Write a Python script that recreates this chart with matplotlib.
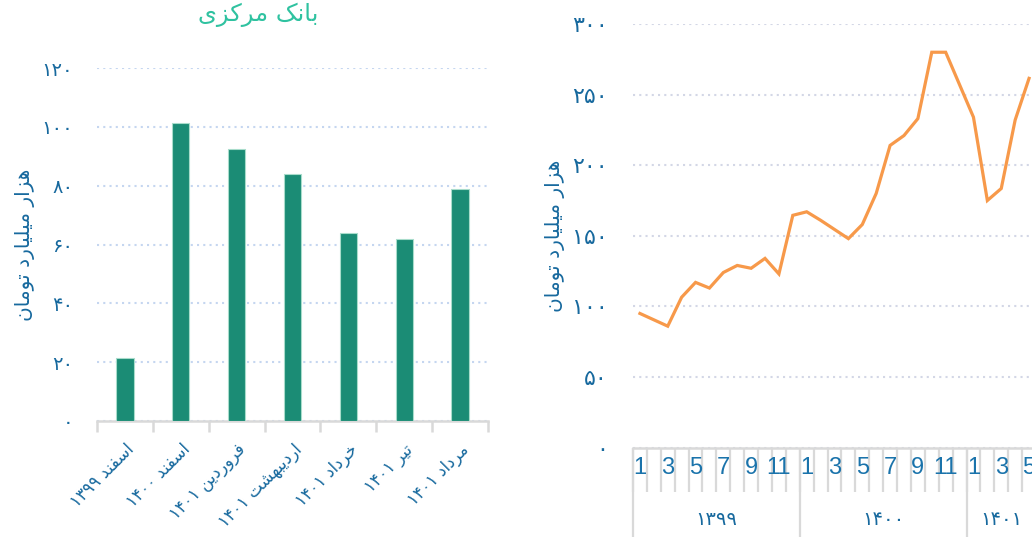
import matplotlib
matplotlib.use("Agg")
import matplotlib.pyplot as plt

# ---------------- data ----------------
title = "بانک مرکزی"
ylabel = "هزار میلیارد تومان"
bar_categories = ["اسفند ۱۳۹۹", "اسفند ۱۴۰۰", "فروردین ۱۴۰۱", "اردیبهشت ۱۴۰۱",
                  "خرداد ۱۴۰۱", "تیر ۱۴۰۱", "مرداد ۱۴۰۱"]
bar_values = [21.3, 101.2, 92.5, 83.8, 63.8, 61.8, 78.7]
bar_yticks = [0, 20, 40, 60, 80, 100, 120]

line_years = ["۱۳۹۹", "۱۴۰۰", "۱۴۰۱"]
line_months_per_year = [12, 12, 5]
line_1399 = [95, 90.5, 86, 106.5, 117, 113, 124, 129, 127, 134, 123, 164.5]
line_1400 = [167, 161, 154.5, 148, 158, 180, 214, 221, 233, 280, 280, 257]
line_1401 = [234, 175, 183.5, 232, 261.5]
line_yticks = [0, 50, 100, 150, 200, 250, 300]

# ---------------- minimal Persian shaping ----------------
FORMS = {
    'ا': ('\uFE8D', '\uFE8E', None, None),
    'ب': ('\uFE8F', '\uFE90', '\uFE91', '\uFE92'),
    'ت': ('\uFE95', '\uFE96', '\uFE97', '\uFE98'),
    'خ': ('\uFEA5', '\uFEA6', '\uFEA7', '\uFEA8'),
    'د': ('\uFEA9', '\uFEAA', None, None),
    'ر': ('\uFEAD', '\uFEAE', None, None),
    'ز': ('\uFEAF', '\uFEB0', None, None),
    'س': ('\uFEB1', '\uFEB2', '\uFEB3', '\uFEB4'),
    'ش': ('\uFEB5', '\uFEB6', '\uFEB7', '\uFEB8'),
    'ف': ('\uFED1', '\uFED2', '\uFED3', '\uFED4'),
    'ل': ('\uFEDD', '\uFEDE', '\uFEDF', '\uFEE0'),
    'م': ('\uFEE1', '\uFEE2', '\uFEE3', '\uFEE4'),
    'ن': ('\uFEE5', '\uFEE6', '\uFEE7', '\uFEE8'),
    'ه': ('\uFEE9', '\uFEEA', '\uFEEB', '\uFEEC'),
    'و': ('\uFEED', '\uFEEE', None, None),
    'ی': ('\uFBFC', '\uFBFD', '\uFBFE', '\uFBFF'),
    'ک': ('\uFB8E', '\uFB8F', '\uFB90', '\uFB91'),
}


def shape_word(w):
    out = []
    n = len(w)
    for i, c in enumerate(w):
        if c not in FORMS:
            out.append(c)
            continue
        f = FORMS[c]
        prev_join = i > 0 and w[i - 1] in FORMS and FORMS[w[i - 1]][2] is not None
        next_join = i < n - 1 and w[i + 1] in FORMS and f[2] is not None
        if prev_join and next_join:
            out.append(f[3])
        elif prev_join:
            out.append(f[1])
        elif next_join:
            out.append(f[2])
        else:
            out.append(f[0])
    return out


def fa(text):
    tokens = text.split(" ")
    vis = []
    for t in tokens:
        if any(ch in FORMS for ch in t):
            vis.append("".join(reversed(shape_word(t))))
        else:
            vis.append(t)
    return " ".join(reversed(vis))


def fa_num(v):
    return str(v).translate(str.maketrans("0123456789", "۰۱۲۳۴۵۶۷۸۹"))


# ---------------- figure ----------------
W, H = 1032, 537
fig = plt.figure(figsize=(W / 100, H / 100), dpi=100)
plt.rcParams['font.family'] = ['DejaVu Sans']

blue = "#17699e"
bar_color = "#1b8c75"

# ---- left bar chart ----
ax1 = fig.add_axes([97 / W, (H - 421) / H, 391 / W, 353 / H])
xs = range(len(bar_values))
ax1.bar(xs, bar_values, width=0.31, color=bar_color, edgecolor="#a8dccb", linewidth=0.8, zorder=3)
ax1.set_xlim(-0.5, len(bar_values) - 0.5)
ax1.set_ylim(0, 120)
ax1.set_yticks(bar_yticks)
ax1.set_yticklabels([fa_num(v) for v in bar_yticks], color=blue, fontsize=14)
ax1.tick_params(axis='y', length=0, pad=17)
ax1.yaxis.grid(True, color="#c5d6f0", linestyle=(0, (1, 2)), linewidth=1.5, zorder=0)
for s in ("top", "right", "left"):
    ax1.spines[s].set_visible(False)
ax1.spines["bottom"].set_color("#d9d9d9")
ax1.spines["bottom"].set_linewidth(1.8)
ax1.set_xticks(list(xs))
ax1.set_xticklabels([fa(c) for c in bar_categories], rotation=45, ha='right',
                    va='top', rotation_mode='anchor', color=blue, fontsize=12)
ax1.tick_params(axis='x', which='major', length=0, pad=14)
ax1.set_xticks([i - 0.5 for i in range(len(bar_values) + 1)], minor=True)
ax1.tick_params(axis='x', which='minor', length=8, width=1.8, color="#d9d9d9", direction='out')
ax1.set_ylabel(fa(ylabel), color=blue, fontsize=14.5, labelpad=5)
fig.text(258 / W, 1 - 15 / H, fa(title), color="#2fc2a0", fontsize=17.5, ha='center', va='center')

# ---- right line chart ----
ax2 = fig.add_axes([633 / W, (H - 447.6) / H, 403 / W, 423.6 / H])
values = line_1399 + line_1400 + line_1401
lx = [i + 0.5 for i in range(len(values))]
ax2.plot(lx, values, color="#f7994a", linewidth=2.3, solid_joinstyle='miter', zorder=3)
total = sum(line_months_per_year)
ax2.set_xlim(0, total)
ax2.set_ylim(0, 300)
ax2.set_yticks(line_yticks)
ax2.set_yticklabels([fa_num(v) for v in line_yticks], color=blue, fontsize=16)
ax2.tick_params(axis='y', length=0, pad=18)
ax2.yaxis.grid(True, color="#d3d7e6", linestyle=(0, (1, 2)), linewidth=1.5, zorder=0)
ax2.set_xticks([])
for s in ("top", "right", "left"):
    ax2.spines[s].set_visible(False)
ax2.spines["bottom"].set_color("#d9d9d9")
ax2.spines["bottom"].set_linewidth(1.8)
ax2.set_ylabel(fa(ylabel), color=blue, fontsize=14.5, labelpad=5)

trans = ax2.get_xaxis_transform()
axh = 423.6
ax2.vlines(range(total + 1), 0, -44 / axh, transform=trans, colors="#d9d9d9",
           linewidth=1.6, clip_on=False)
start = 0
for yr, nm in zip(line_years, line_months_per_year):
    ax2.vlines([start], 0, -95 / axh, transform=trans, colors="#d9d9d9",
               linewidth=1.6, clip_on=False)
    for m in range(1, nm + 1, 2):
        ax2.text(start + m - 0.5, -20 / axh, str(m), transform=trans, ha='center',
                 va='center', fontsize=17, color="#1a73ab", family="Liberation Sans",
                 clip_on=False)
    ax2.text(start + nm / 2, -72 / axh, yr, transform=trans, ha='center', va='center',
             fontsize=14, color=blue, clip_on=False)
    start += nm

fig.savefig("out.png", dpi=100)
